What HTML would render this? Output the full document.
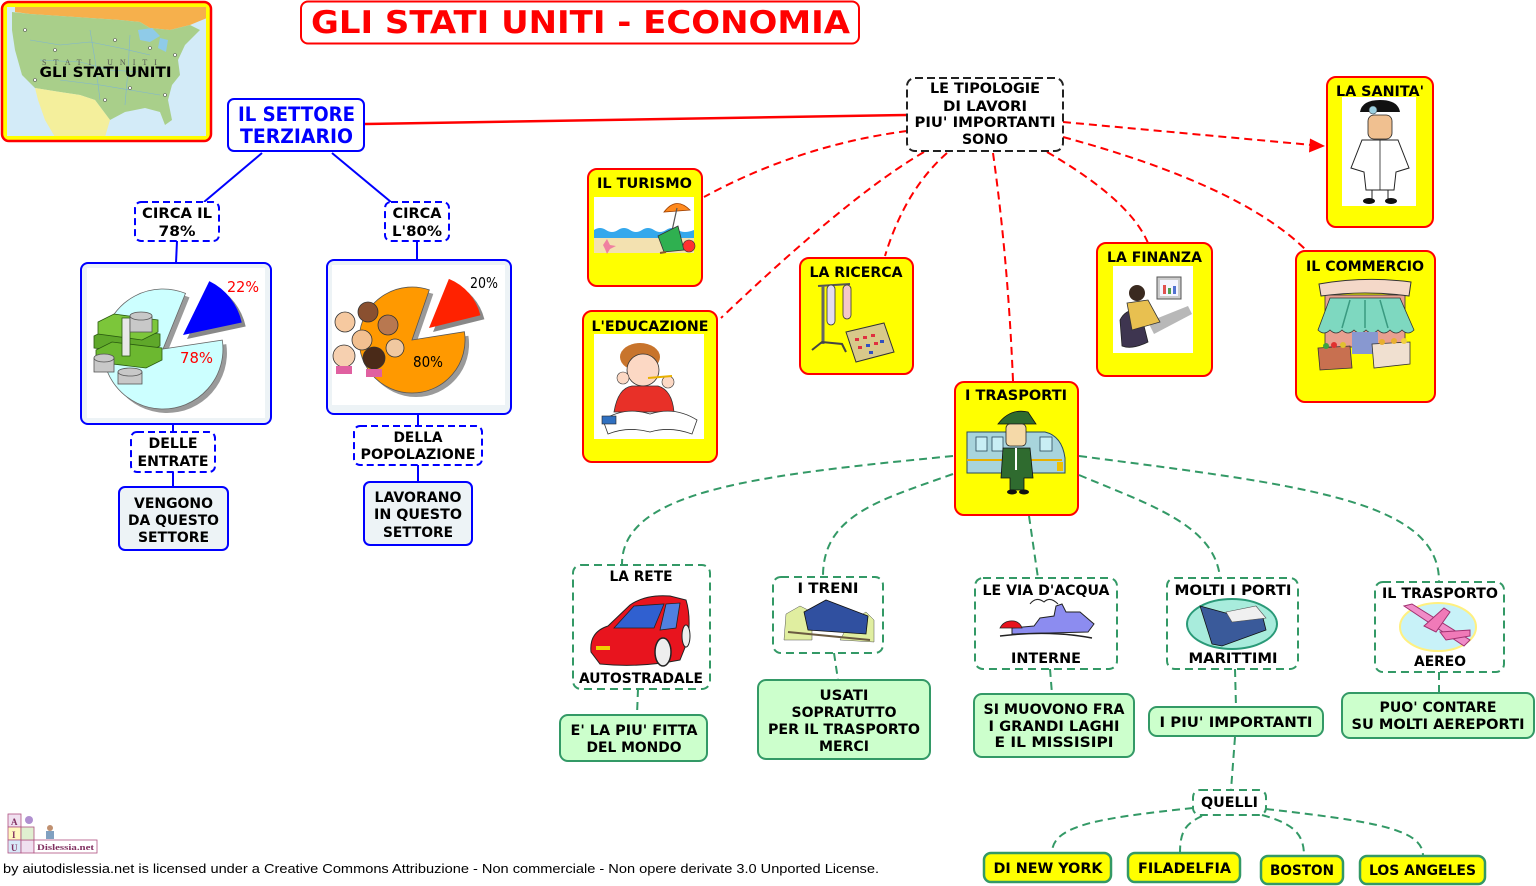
<!DOCTYPE html>
<html><head><meta charset="utf-8">
<style>
html,body{margin:0;padding:0;background:#fff;}
svg{display:block;}
text{font-family:"DejaVu Sans","Liberation Sans",sans-serif;font-weight:bold;}
.t{font-size:14.5px;fill:#000;}
.rd{fill:none;stroke:#ff0000;stroke-width:2;stroke-dasharray:8 5;}
.gd{fill:none;stroke:#339966;stroke-width:2;stroke-dasharray:8 5;}
.bd{fill:#fff;stroke:#0000ff;stroke-width:2;stroke-dasharray:7 4;}
.gbox{fill:#fff;stroke:#339966;stroke-width:2;stroke-dasharray:8 5;}
.lg{fill:#ccffcc;stroke:#339966;stroke-width:2;}
.yn{fill:#ffff00;stroke:#ff0000;stroke-width:2;}
.cy{fill:#ffff00;stroke:#339966;stroke-width:2.5;}
.bl{stroke:#0000ff;stroke-width:2;}
.ln{stroke:#222;stroke-width:1;}
</style></head><body>
<svg width="1536" height="886" viewBox="0 0 1536 886" xmlns="http://www.w3.org/2000/svg">
<defs>
<clipPath id="mapc"><rect x="7" y="7" width="199" height="129"/></clipPath>
</defs>

<!-- MAP -->
<rect x="2" y="2" width="209" height="139" rx="7" fill="#ffff00" stroke="#ff0000" stroke-width="2.5"/>
<g clip-path="url(#mapc)">
<rect x="7" y="7" width="199" height="129" fill="#d3ebf8"/>
<polygon points="15,6 207,6 207,18 190,25 170,30 150,28 140,22 120,20 30,14 15,12" fill="#f6b04c"/>
<polygon points="12,12 30,14 120,20 140,22 150,28 170,30 190,25 200,30 185,45 178,60 180,75 172,85 168,100 172,120 165,125 160,112 145,108 125,112 110,120 95,100 80,95 60,92 35,88 22,75 15,50 12,30" fill="#a9cf8a"/>
<polygon points="35,88 60,92 80,95 95,100 110,120 105,137 55,137 45,120 38,100" fill="#f4ef9c"/>
<polygon points="138,30 152,28 160,36 150,42 140,40" fill="#8fcbe8"/>
<polygon points="160,38 168,40 166,52 158,48" fill="#8fcbe8"/>
<g fill="none" stroke="#7fb5d0" stroke-width="0.6">
<path d="M30,40 L60,45 L90,42 L120,48 L150,55"/>
<path d="M40,60 L80,62 L110,70 L140,72"/>
<path d="M60,80 L100,85 L130,90 L160,95"/>
<path d="M90,30 L95,60 L100,100"/>
<path d="M130,35 L128,70 L125,105"/>
</g>
<g fill="#fff" stroke="#555" stroke-width="0.6">
<circle cx="25" cy="30" r="1.5"/><circle cx="55" cy="50" r="1.5"/><circle cx="115" cy="40" r="1.5"/>
<circle cx="150" cy="48" r="1.5"/><circle cx="175" cy="55" r="1.5"/><circle cx="35" cy="80" r="1.5"/>
<circle cx="105" cy="100" r="1.5"/><circle cx="165" cy="95" r="1.5"/><circle cx="130" cy="88" r="1.5"/>
</g>
<text x="42" y="65" font-family="Liberation Serif,serif" font-size="8" font-weight="normal" fill="#555" letter-spacing="7" style="font-family:'Liberation Serif',serif;font-weight:normal">STATI UNITI</text>
</g>
<text x="105.5" y="77" class="t" text-anchor="middle" textLength="132" lengthAdjust="spacingAndGlyphs">GLI STATI UNITI</text>

<!-- TITLE -->
<rect x="301" y="1.5" width="558" height="42" rx="7" fill="#fff" stroke="#ff0000" stroke-width="2"/>
<text x="580.5" y="33" font-size="31" fill="#ff0000" text-anchor="middle" textLength="539" lengthAdjust="spacingAndGlyphs">GLI STATI UNITI - ECONOMIA</text>

<!-- SETTORE TERZIARIO -->
<line x1="365" y1="124" x2="907" y2="115" stroke="#ff0000" stroke-width="2.5"/>
<rect x="228" y="99" width="136" height="52" rx="6" fill="#fff" stroke="#0000ff" stroke-width="2"/>
<text x="296.5" y="121" font-size="19.5" fill="#0000ff" text-anchor="middle" textLength="117" lengthAdjust="spacingAndGlyphs">IL SETTORE</text>
<text x="296.5" y="143" font-size="19.5" fill="#0000ff" text-anchor="middle" textLength="113" lengthAdjust="spacingAndGlyphs">TERZIARIO</text>

<line x1="262" y1="153" x2="204" y2="202" class="bl"/>
<line x1="332" y1="153" x2="391" y2="202" class="bl"/>
<line x1="177" y1="241" x2="176" y2="263" class="bl"/>
<line x1="417" y1="241" x2="417" y2="260" class="bl"/>
<line x1="173" y1="424" x2="173" y2="432" class="bl"/>
<line x1="173" y1="472" x2="173" y2="487" class="bl"/>
<line x1="418" y1="414" x2="418" y2="426" class="bl"/>
<line x1="418" y1="465" x2="418" y2="482" class="bl"/>

<rect x="135" y="202" width="84" height="39" rx="6" class="bd"/>
<text x="177" y="218" class="t" text-anchor="middle" textLength="70" lengthAdjust="spacingAndGlyphs">CIRCA IL</text>
<text x="177" y="236" class="t" text-anchor="middle" textLength="37" lengthAdjust="spacingAndGlyphs">78%</text>
<rect x="385" y="202" width="64" height="39" rx="6" class="bd"/>
<text x="417" y="218" class="t" text-anchor="middle" textLength="49" lengthAdjust="spacingAndGlyphs">CIRCA</text>
<text x="417" y="236" class="t" text-anchor="middle" textLength="50" lengthAdjust="spacingAndGlyphs">L'80%</text>

<!-- PIE 1 -->
<rect x="81" y="263" width="190" height="161" rx="7" fill="#edf3f6" stroke="#0000ff" stroke-width="2"/>
<rect x="87" y="268" width="178" height="150" fill="#fff"/>
<path d="M167,353 L226.3,344.1 A60,60 0 1 1 189.5,297.4 Z" fill="#9a9a9a"/>
<path d="M163,349 L222.3,340.1 A60,60 0 1 1 185.5,293.4 Z" fill="#ccffff" stroke="#666" stroke-width="0.8"/>
<path d="M187,339 L213.3,285.1 A60,60 0 0 1 245.7,326.5 Z" fill="#888"/>
<path d="M183,335 L209.3,281.1 A60,60 0 0 1 241.7,322.5 Z" fill="#0000ff"/>
<!-- money -->
<g stroke="#2a5a10" stroke-width="0.8">
<polygon points="94,336 110,328 160,334 160,346 144,354 94,348" fill="#5fa82a"/>
<polygon points="96,350 112,342 162,348 162,360 146,368 96,362" fill="#6cb830"/>
<polygon points="98,322 114,314 158,320 158,332 142,340 98,334" fill="#7cc63a"/>
<rect x="122" y="318" width="8" height="38" fill="#e8e8e8"/>
</g>
<g fill="#c8c8c8" stroke="#555" stroke-width="0.8">
<rect x="130" y="316" width="22" height="16" /><ellipse cx="141" cy="316" rx="11" ry="4"/>
<rect x="94" y="358" width="20" height="14"/><ellipse cx="104" cy="358" rx="10" ry="4"/>
<rect x="118" y="372" width="24" height="12"/><ellipse cx="130" cy="372" rx="12" ry="4"/>
</g>
<text x="243" y="292" font-size="15" fill="#ff0000" text-anchor="middle" textLength="32" lengthAdjust="spacingAndGlyphs" style="font-weight:normal">22%</text>
<text x="196.5" y="363" font-size="15" fill="#ff0000" text-anchor="middle" textLength="33" lengthAdjust="spacingAndGlyphs" style="font-weight:normal">78%</text>

<!-- PIE 2 -->
<rect x="327" y="260" width="184" height="154" rx="7" fill="#edf3f6" stroke="#0000ff" stroke-width="2"/>
<rect x="332" y="265" width="173" height="140" fill="#fff"/>
<path d="M416,344 L468.4,335.7 A53,53 0 1 1 433.3,293.9 Z" fill="#9a9a9a"/>
<path d="M412,340 L464.4,331.7 A53,53 0 1 1 429.3,289.9 Z" fill="#ff9900" stroke="#555" stroke-width="0.8"/>
<path d="M433,332 L452.9,282.9 A53,53 0 0 1 484.4,319.2 Z" fill="#888"/>
<path d="M429,328 L448.9,278.9 A53,53 0 0 1 480.4,315.2 Z" fill="#ff2200"/>
<g stroke="#333" stroke-width="0.8">
<circle cx="345" cy="322" r="10" fill="#f6c9a0"/>
<circle cx="368" cy="312" r="10" fill="#8a5030"/>
<circle cx="388" cy="325" r="10" fill="#b87850"/>
<circle cx="362" cy="340" r="10" fill="#f2c090"/>
<circle cx="344" cy="356" r="11" fill="#f6d0b0"/>
<circle cx="374" cy="358" r="11" fill="#4a2a18"/>
<circle cx="395" cy="348" r="9" fill="#f0c8a0"/>
</g>
<g fill="#e060a0"><rect x="336" y="366" width="16" height="8"/><rect x="366" y="369" width="16" height="8"/></g>
<text x="484" y="288" font-size="15" fill="#000" text-anchor="middle" textLength="28" lengthAdjust="spacingAndGlyphs" style="font-weight:normal">20%</text>
<text x="428" y="367" font-size="15" fill="#000" text-anchor="middle" textLength="30" lengthAdjust="spacingAndGlyphs" style="font-weight:normal">80%</text>

<rect x="131" y="432" width="84" height="40" rx="6" class="bd"/>
<text x="173" y="448" class="t" text-anchor="middle" textLength="49" lengthAdjust="spacingAndGlyphs">DELLE</text>
<text x="173" y="466" class="t" text-anchor="middle" textLength="71" lengthAdjust="spacingAndGlyphs">ENTRATE</text>
<rect x="119" y="487" width="109" height="63" rx="6" fill="#edf3f6" stroke="#0000ff" stroke-width="2"/>
<text x="173.5" y="508" class="t" text-anchor="middle" textLength="79" lengthAdjust="spacingAndGlyphs">VENGONO</text>
<text x="173.5" y="525" class="t" text-anchor="middle" textLength="91" lengthAdjust="spacingAndGlyphs">DA QUESTO</text>
<text x="173.5" y="542" class="t" text-anchor="middle" textLength="71" lengthAdjust="spacingAndGlyphs">SETTORE</text>

<rect x="354" y="426" width="128" height="39" rx="6" class="bd"/>
<text x="418" y="442" class="t" text-anchor="middle" textLength="49" lengthAdjust="spacingAndGlyphs">DELLA</text>
<text x="418" y="459" class="t" text-anchor="middle" textLength="115" lengthAdjust="spacingAndGlyphs">POPOLAZIONE</text>
<rect x="364" y="482" width="108" height="63" rx="6" fill="#edf3f6" stroke="#0000ff" stroke-width="2"/>
<text x="418" y="502" class="t" text-anchor="middle" textLength="87" lengthAdjust="spacingAndGlyphs">LAVORANO</text>
<text x="418" y="519" class="t" text-anchor="middle" textLength="88" lengthAdjust="spacingAndGlyphs">IN QUESTO</text>
<text x="418" y="537" class="t" text-anchor="middle" textLength="70" lengthAdjust="spacingAndGlyphs">SETTORE</text>

<!-- RED DASHED CONNECTORS -->
<path class="rd" d="M907,131 Q800,145 704,197"/>
<path class="rd" d="M924,152 Q850,195 721,318"/>
<path class="rd" d="M947,153 Q905,190 885,256"/>
<path class="rd" d="M993,153 Q1008,260 1013,381"/>
<path class="rd" d="M1047,152 Q1130,200 1148,243"/>
<path class="rd" d="M1063,137 Q1240,185 1306,250"/>
<path class="rd" d="M1063,122 L1312,145"/>
<polygon points="1325,146 1310,138.5 1309,152.5" fill="#ff0000"/>

<!-- TIPOLOGIE -->
<rect x="907" y="78" width="156" height="73" rx="8" fill="#fff" stroke="#222" stroke-width="2" stroke-dasharray="8 4"/>
<text x="985" y="93" class="t" text-anchor="middle" textLength="110" lengthAdjust="spacingAndGlyphs">LE TIPOLOGIE</text>
<text x="985" y="111" class="t" text-anchor="middle" textLength="84" lengthAdjust="spacingAndGlyphs">DI LAVORI</text>
<text x="985" y="127" class="t" text-anchor="middle" textLength="141" lengthAdjust="spacingAndGlyphs">PIU' IMPORTANTI</text>
<text x="985" y="144" class="t" text-anchor="middle" textLength="46" lengthAdjust="spacingAndGlyphs">SONO</text>

<!-- TURISMO -->
<rect x="588" y="169" width="114" height="117" rx="9" class="yn"/>
<text x="644.5" y="188" class="t" text-anchor="middle" textLength="95" lengthAdjust="spacingAndGlyphs">IL TURISMO</text>
<rect x="594" y="197" width="100" height="56" fill="#fff"/>
<path d="M594,230 Q600,226 606,230 Q612,234 618,230 Q624,226 630,230 Q636,234 642,230 Q648,226 654,230 Q660,234 666,230 Q672,226 678,230 Q684,234 694,230 L694,238 L594,238 Z" fill="#35a8ec"/>
<rect x="594" y="238" width="100" height="15" fill="#f3e1b0"/>
<path d="M664,212 Q676,196 690,210 Z" fill="#ff8a1e" stroke="#a04000" stroke-width="0.8"/>
<line x1="677" y1="208" x2="670" y2="240" stroke="#555" stroke-width="1.2"/>
<polygon points="658,236 678,226 684,250 664,252" fill="#2fb050" stroke="#333" stroke-width="0.8"/>
<line x1="666" y1="252" x2="660" y2="253" stroke="#8a5a30" stroke-width="2"/>
<circle cx="689" cy="246" r="6" fill="#ff3030" stroke="#333" stroke-width="0.6"/>
<path d="M603,245 l4,-6 l3,6 l6,1 l-6,3 l-3,5 l-2,-5 z" fill="#f080a0"/>

<!-- EDUCAZIONE -->
<rect x="583" y="311" width="134" height="151" rx="9" class="yn"/>
<text x="650" y="331" class="t" text-anchor="middle" textLength="117" lengthAdjust="spacingAndGlyphs">L'EDUCAZIONE</text>
<rect x="594" y="334" width="110" height="105" fill="#fff"/>
<ellipse cx="640" cy="357" rx="20" ry="14" fill="#c8742c"/>
<circle cx="643" cy="370" r="16" fill="#fcd8c4" stroke="#333" stroke-width="0.8"/>
<path d="M614,412 Q618,388 632,386 L658,386 Q672,390 674,412 Z" fill="#e83028" stroke="#333" stroke-width="0.8"/>
<circle cx="623" cy="378" r="6" fill="#fcd8c4" stroke="#333" stroke-width="0.6"/>
<circle cx="668" cy="382" r="6" fill="#fcd8c4" stroke="#333" stroke-width="0.6"/>
<line x1="648" y1="378" x2="672" y2="376" stroke="#e8b000" stroke-width="2"/>
<path d="M603,420 Q625,406 650,414 Q675,406 697,420 L692,434 Q670,426 650,432 Q628,426 608,434 Z" fill="#fff" stroke="#333" stroke-width="0.8"/>
<rect x="602" y="416" width="14" height="8" fill="#3070c0" stroke="#222" stroke-width="0.6"/>

<!-- RICERCA -->
<rect x="800" y="258" width="113" height="116" rx="9" class="yn"/>
<text x="856" y="277" class="t" text-anchor="middle" textLength="93" lengthAdjust="spacingAndGlyphs">LA RICERCA</text>
<line x1="818" y1="286" x2="850" y2="284" stroke="#555" stroke-width="2"/>
<line x1="823" y1="286" x2="823" y2="344" stroke="#666" stroke-width="3"/>
<path d="M812,350 L822,342 L842,344 L846,352" fill="none" stroke="#444" stroke-width="2"/>
<rect x="827" y="285" width="8" height="40" rx="4" fill="#e4dcf0" stroke="#333" stroke-width="0.8"/>
<rect x="843" y="285" width="8" height="34" rx="4" fill="#f4c8c8" stroke="#333" stroke-width="0.8"/>
<polygon points="846,332 884,323 894,352 856,362" fill="#d8c98a" stroke="#333" stroke-width="1"/>
<g fill="#e03040"><rect x="855" y="338" width="4" height="3"/><rect x="863" y="336" width="4" height="3"/><rect x="871" y="334" width="4" height="3"/><rect x="858" y="346" width="4" height="3"/><rect x="874" y="342" width="4" height="3"/></g>
<g fill="#3050c0"><rect x="866" y="344" width="4" height="3"/><rect x="880" y="340" width="4" height="3"/><rect x="869" y="351" width="4" height="3"/></g>

<!-- FINANZA -->
<rect x="1097" y="243" width="115" height="133" rx="9" class="yn"/>
<text x="1154.5" y="262" class="t" text-anchor="middle" textLength="95" lengthAdjust="spacingAndGlyphs">LA FINANZA</text>
<rect x="1113" y="266" width="80" height="87" fill="#fff"/>
<polygon points="1148,322 1188,306 1192,314 1154,334" fill="#b8b8b8"/>
<rect x="1157" y="277" width="24" height="22" fill="#ccc" stroke="#555" stroke-width="1"/>
<rect x="1160" y="280" width="18" height="16" fill="#f4f4ff"/>
<rect x="1163" y="285" width="3" height="9" fill="#e05050"/><rect x="1168" y="288" width="3" height="6" fill="#50a050"/><rect x="1173" y="286" width="3" height="8" fill="#5070d0"/>
<path d="M1120,320 Q1126,308 1140,310 L1148,342 Q1132,350 1122,346 Z" fill="#3e3550" stroke="#222" stroke-width="0.8"/>
<polygon points="1127,303 1148,300 1160,322 1132,330" fill="#e8c050" stroke="#333" stroke-width="0.8"/>
<circle cx="1137" cy="293" r="8" fill="#3a2a20"/>

<!-- SANITA -->
<rect x="1327" y="77" width="106" height="150" rx="9" class="yn"/>
<text x="1380" y="96" class="t" text-anchor="middle" textLength="88" lengthAdjust="spacingAndGlyphs">LA SANITA'</text>
<rect x="1342" y="97" width="74" height="109" fill="#fff"/>
<path d="M1360,112 Q1362,100 1380,100 Q1398,100 1400,112 Z" fill="#111"/>
<circle cx="1373" cy="110" r="4" fill="#9cd0e0" stroke="#333" stroke-width="0.6"/>
<rect x="1368" y="115" width="24" height="24" rx="6" fill="#f0c090" stroke="#222" stroke-width="0.8"/>
<path d="M1362,140 L1398,140 L1409,168 L1396,172 L1394,190 L1366,190 L1364,172 L1351,168 Z" fill="#fff" stroke="#222" stroke-width="1"/>
<line x1="1380" y1="140" x2="1380" y2="190" stroke="#222" stroke-width="0.8"/>
<line x1="1372" y1="190" x2="1372" y2="200" stroke="#222" stroke-width="1"/>
<line x1="1388" y1="190" x2="1388" y2="200" stroke="#222" stroke-width="1"/>
<ellipse cx="1369" cy="201" rx="6" ry="3" fill="#111"/><ellipse cx="1391" cy="201" rx="6" ry="3" fill="#111"/>

<!-- COMMERCIO -->
<rect x="1296" y="251" width="139" height="151" rx="9" class="yn"/>
<text x="1365" y="271" class="t" text-anchor="middle" textLength="118" lengthAdjust="spacingAndGlyphs">IL COMMERCIO</text>
<rect x="1325" y="295" width="80" height="52" fill="#e8a090" stroke="#333" stroke-width="0.8"/>
<path d="M1319,284 Q1365,276 1411,282 L1409,296 Q1365,290 1321,296 Z" fill="#f4d8c8" stroke="#333" stroke-width="1"/>
<path d="M1330,298 L1400,298 L1414,330 Q1408,336 1402,330 Q1396,336 1390,330 Q1384,336 1378,330 Q1372,336 1366,330 Q1360,336 1354,330 Q1348,336 1342,330 Q1336,336 1330,330 Q1324,336 1318,330 Z" fill="#7ed8c0" stroke="#333" stroke-width="0.8"/>
<g stroke="#3a9a80" stroke-width="1.5"><line x1="1350" y1="300" x2="1342" y2="328"/><line x1="1365" y1="300" x2="1365" y2="328"/><line x1="1380" y1="300" x2="1388" y2="328"/></g>
<rect x="1352" y="332" width="26" height="22" fill="#8898d0"/>
<polygon points="1318,348 1350,346 1352,368 1320,370" fill="#c87050" stroke="#333" stroke-width="0.8"/>
<polygon points="1372,344 1410,342 1410,364 1374,368" fill="#f0e0d0" stroke="#333" stroke-width="0.8"/>
<g><circle cx="1326" cy="346" r="3" fill="#40a040"/><circle cx="1334" cy="345" r="3" fill="#e03030"/><circle cx="1343" cy="345" r="3" fill="#e0c030"/><circle cx="1382" cy="342" r="3" fill="#e8b030"/><circle cx="1394" cy="341" r="3" fill="#e8b030"/><circle cx="1404" cy="341" r="3" fill="#f0d040"/></g>

<!-- TRASPORTI -->
<rect x="955" y="382" width="123" height="133" rx="9" class="yn"/>
<text x="1016" y="400" class="t" text-anchor="middle" textLength="102" lengthAdjust="spacingAndGlyphs">I TRASPORTI</text>
<path d="M967,432 L1045,432 Q1062,436 1065,458 L1065,473 L967,473 Z" fill="#a8d4dc" stroke="#2a4a5a" stroke-width="1"/>
<g fill="#c8eef4" stroke="#2a4a5a" stroke-width="0.8"><rect x="976" y="437" width="11" height="14"/><rect x="992" y="437" width="11" height="14"/><rect x="1040" y="437" width="12" height="14"/></g>
<line x1="967" y1="460" x2="1062" y2="460" stroke="#e8b000" stroke-width="2"/>
<rect x="1057" y="462" width="6" height="9" fill="#f0c000"/>
<path d="M998,424 Q1010,408 1028,412 L1036,424 Z" fill="#2f6b2f" stroke="#111" stroke-width="0.8"/>
<rect x="1006" y="424" width="20" height="22" rx="4" fill="#f5d9a8" stroke="#222" stroke-width="0.8"/>
<path d="M1003,448 L1030,448 L1033,478 L1024,478 L1024,490 L1010,490 L1010,478 L1001,478 Z" fill="#2f6b2f" stroke="#111" stroke-width="0.8"/>
<line x1="1016" y1="448" x2="1016" y2="470" stroke="#fff" stroke-width="2"/>
<ellipse cx="1012" cy="492" rx="5" ry="2.5" fill="#111"/><ellipse cx="1024" cy="492" rx="5" ry="2.5" fill="#111"/>

<!-- GREEN CONNECTORS -->
<path class="gd" d="M953,456 C760,475 622,490 622,564"/>
<path class="gd" d="M953,474 C880,500 823,515 823,576"/>
<path class="gd" d="M1029,516 L1038,578"/>
<path class="gd" d="M1079,475 C1150,505 1215,525 1220,578"/>
<path class="gd" d="M1079,456 C1300,485 1439,500 1439,581"/>
<path class="gd" d="M638,689 L637,715"/>
<path class="gd" d="M834,653 L838,680"/>
<path class="gd" d="M1050,669 L1052,694"/>
<path class="gd" d="M1235,669 L1236,707"/>
<path class="gd" d="M1439,672 L1439,693"/>
<path class="gd" d="M1235,737 L1231,790"/>
<path class="gd" d="M1193,808 C1100,818 1052,825 1052,853"/>
<path class="gd" d="M1202,816 C1185,824 1180,832 1180,853"/>
<path class="gd" d="M1262,815 C1295,824 1304,835 1304,856"/>
<path class="gd" d="M1266,809 C1380,822 1423,830 1423,856"/>

<!-- LA RETE -->
<rect x="573" y="565" width="137" height="124" rx="8" class="gbox"/>
<text x="641" y="581" class="t" text-anchor="middle" textLength="63" lengthAdjust="spacingAndGlyphs">LA RETE</text>
<text x="641" y="683" class="t" text-anchor="middle" textLength="124" lengthAdjust="spacingAndGlyphs">AUTOSTRADALE</text>
<path d="M591,652 Q589,632 608,626 L630,605 Q646,594 670,596 L686,600 Q691,616 688,640 L680,660 Q640,668 600,664 Z" fill="#e8141e" stroke="#222" stroke-width="1"/>
<polygon points="614,628 634,606 664,604 654,628" fill="#3060d0" stroke="#222" stroke-width="0.8"/>
<polygon points="666,604 680,603 676,628 660,630" fill="#5080e0" stroke="#222" stroke-width="0.8"/>
<ellipse cx="663" cy="652" rx="8" ry="14" fill="#eee" stroke="#222" stroke-width="1.5"/>
<ellipse cx="686" cy="636" rx="4" ry="11" fill="#eee" stroke="#222" stroke-width="1"/>
<rect x="596" y="646" width="14" height="4" fill="#f0d000"/>

<!-- I TRENI -->
<rect x="773" y="577" width="110" height="76" rx="8" class="gbox"/>
<text x="828" y="593" class="t" text-anchor="middle" textLength="61" lengthAdjust="spacingAndGlyphs">I TRENI</text>
<polygon points="784,640 786,614 800,606 812,612 812,640" fill="#e0eea0" stroke="#555" stroke-width="0.5"/>
<polygon points="840,640 850,622 866,612 874,620 874,642" fill="#e0eea0" stroke="#555" stroke-width="0.5"/>
<polygon points="804,612 826,600 868,616 866,634 808,630" fill="#3050a0" stroke="#111" stroke-width="0.8"/>
<line x1="788" y1="632" x2="870" y2="640" stroke="#6a5a40" stroke-width="2"/>

<!-- VIA D'ACQUA -->
<rect x="975" y="578" width="142" height="91" rx="8" class="gbox"/>
<text x="1046" y="595" class="t" text-anchor="middle" textLength="127" lengthAdjust="spacingAndGlyphs">LE VIA D'ACQUA</text>
<text x="1046" y="663" class="t" text-anchor="middle" textLength="70" lengthAdjust="spacingAndGlyphs">INTERNE</text>
<path d="M1030,604 Q1036,596 1044,602 Q1050,596 1058,604" fill="none" stroke="#222" stroke-width="1"/>
<polygon points="1012,634 1088,632 1094,624 1080,612 1066,612 1062,604 1056,606 1054,616 1040,618 1034,626 1012,628" fill="#8c8cf0" stroke="#222" stroke-width="1"/>
<path d="M1000,636 Q1050,630 1092,638" fill="none" stroke="#222" stroke-width="1.5"/>
<path d="M1000,628 Q1004,620 1014,621 Q1020,622 1022,628 Z" fill="#e8141e" stroke="#222" stroke-width="0.8"/>

<!-- PORTI -->
<rect x="1167" y="578" width="131" height="91" rx="8" class="gbox"/>
<text x="1233" y="595" class="t" text-anchor="middle" textLength="117" lengthAdjust="spacingAndGlyphs">MOLTI I PORTI</text>
<text x="1233" y="663" class="t" text-anchor="middle" textLength="89" lengthAdjust="spacingAndGlyphs">MARITTIMI</text>
<ellipse cx="1232" cy="624" rx="45" ry="25" fill="#a8ecdc" stroke="#2a9a78" stroke-width="2"/>
<polygon points="1200,606 1244,618 1262,614 1266,630 1222,646 1212,644" fill="#3a5a9a" stroke="#111" stroke-width="0.8"/>
<polygon points="1226,612 1256,606 1266,618 1232,622" fill="#f0f0f0" stroke="#555" stroke-width="0.6"/>

<!-- AEREO -->
<rect x="1375" y="582" width="129" height="90" rx="8" class="gbox"/>
<text x="1440" y="598" class="t" text-anchor="middle" textLength="116" lengthAdjust="spacingAndGlyphs">IL TRASPORTO</text>
<text x="1440" y="666" class="t" text-anchor="middle" textLength="52" lengthAdjust="spacingAndGlyphs">AEREO</text>
<ellipse cx="1438" cy="627" rx="38" ry="24" fill="#c8f2f8" stroke="#fff080" stroke-width="2"/>
<polygon points="1404,606 1412,604 1470,640 1464,646" fill="#f08cc8" stroke="#a03070" stroke-width="1"/>
<polygon points="1424,626 1444,608 1450,612 1436,632" fill="#f07ab8" stroke="#a03070" stroke-width="1"/>
<polygon points="1440,632 1470,630 1470,636 1446,640" fill="#f07ab8" stroke="#a03070" stroke-width="1"/>

<!-- LIGHT GREEN BOXES -->
<rect x="560" y="715" width="147" height="46" rx="8" class="lg"/>
<text x="634" y="735" class="t" text-anchor="middle" textLength="127" lengthAdjust="spacingAndGlyphs">E' LA PIU' FITTA</text>
<text x="634" y="752" class="t" text-anchor="middle" textLength="95" lengthAdjust="spacingAndGlyphs">DEL MONDO</text>

<rect x="758" y="680" width="172" height="79" rx="8" class="lg"/>
<text x="844" y="700" class="t" text-anchor="middle" textLength="49" lengthAdjust="spacingAndGlyphs">USATI</text>
<text x="844" y="717" class="t" text-anchor="middle" textLength="105" lengthAdjust="spacingAndGlyphs">SOPRATUTTO</text>
<text x="844" y="734" class="t" text-anchor="middle" textLength="152" lengthAdjust="spacingAndGlyphs">PER IL TRASPORTO</text>
<text x="844" y="751" class="t" text-anchor="middle" textLength="50" lengthAdjust="spacingAndGlyphs">MERCI</text>

<rect x="974" y="694" width="160" height="63" rx="8" class="lg"/>
<text x="1054" y="714" class="t" text-anchor="middle" textLength="141" lengthAdjust="spacingAndGlyphs">SI MUOVONO FRA</text>
<text x="1054" y="731" class="t" text-anchor="middle" textLength="131" lengthAdjust="spacingAndGlyphs">I GRANDI LAGHI</text>
<text x="1054" y="747" class="t" text-anchor="middle" textLength="119" lengthAdjust="spacingAndGlyphs">E IL MISSISIPI</text>

<rect x="1149" y="707" width="174" height="29" rx="8" class="lg"/>
<text x="1236" y="727" class="t" text-anchor="middle" textLength="153" lengthAdjust="spacingAndGlyphs">I PIU' IMPORTANTI</text>

<rect x="1342" y="693" width="192" height="45" rx="8" class="lg"/>
<text x="1438" y="712" class="t" text-anchor="middle" textLength="117" lengthAdjust="spacingAndGlyphs">PUO' CONTARE</text>
<text x="1438" y="729" class="t" text-anchor="middle" textLength="173" lengthAdjust="spacingAndGlyphs">SU MOLTI AEREPORTI</text>

<!-- QUELLI -->
<rect x="1193" y="790" width="73" height="25" rx="7" class="gbox"/>
<text x="1229.5" y="807" class="t" text-anchor="middle" textLength="57" lengthAdjust="spacingAndGlyphs">QUELLI</text>

<rect x="984" y="853" width="127" height="29" rx="7" class="cy"/>
<text x="1048" y="873" class="t" text-anchor="middle" textLength="109" lengthAdjust="spacingAndGlyphs">DI NEW YORK</text>
<rect x="1128" y="853" width="112" height="29" rx="7" class="cy"/>
<text x="1184.5" y="873" class="t" text-anchor="middle" textLength="93" lengthAdjust="spacingAndGlyphs">FILADELFIA</text>
<rect x="1261" y="856" width="82" height="28" rx="7" class="cy"/>
<text x="1302" y="875" class="t" text-anchor="middle" textLength="64" lengthAdjust="spacingAndGlyphs">BOSTON</text>
<rect x="1360" y="856" width="125" height="28" rx="7" class="cy"/>
<text x="1422.5" y="875" class="t" text-anchor="middle" textLength="107" lengthAdjust="spacingAndGlyphs">LOS ANGELES</text>

<!-- FOOTER LOGO -->
<g stroke="#b05080" stroke-width="0.8">
<rect x="8" y="814" width="13" height="13" fill="#f0e0f0"/>
<rect x="8" y="827" width="13" height="13" fill="#fff8c0"/>
<rect x="8" y="840" width="13" height="13" fill="#d8e8f8"/>
<rect x="21" y="840" width="13" height="13" fill="#f0e0f0"/>
<rect x="21" y="827" width="13" height="13" fill="#e0f0d0"/>
<rect x="34" y="840" width="63" height="13" fill="#fff"/>
</g>
<text x="11" y="825" font-size="9" fill="#803060" style="font-family:'Liberation Serif',serif">A</text>
<text x="12" y="838" font-size="9" fill="#803060" style="font-family:'Liberation Serif',serif">I</text>
<text x="11" y="851" font-size="9" fill="#803060" style="font-family:'Liberation Serif',serif">U</text>
<text x="37" y="850" font-size="8" fill="#803060" textLength="57" lengthAdjust="spacingAndGlyphs" style="font-family:'Liberation Serif',serif">Dislessia.net</text>
<circle cx="29" cy="820" r="4" fill="#b090d0"/>
<circle cx="50" cy="828" r="3" fill="#c09070"/>
<rect x="46" y="831" width="8" height="8" fill="#80a0c0"/>

<text x="3" y="873" font-size="12.5" fill="#000" textLength="876" lengthAdjust="spacingAndGlyphs" style="font-weight:normal;font-family:'Liberation Sans',sans-serif">by aiutodislessia.net is licensed under a Creative Commons Attribuzione - Non commerciale - Non opere derivate 3.0 Unported License.</text>
</svg>
</body></html>
